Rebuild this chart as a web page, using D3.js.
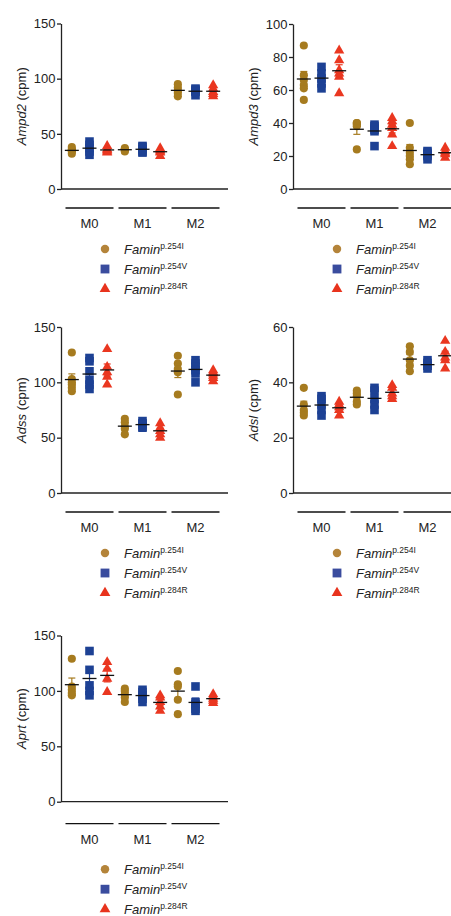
<!DOCTYPE html>
<html lang="en">
<head>
<meta charset="UTF-8">
<title>Famin purine genes</title>
<style>
  body { margin: 0; background: #fff; }
  svg { display: block; font-family: "Liberation Sans", Arial, sans-serif; }
  .tick text { font-size: 13px; fill: #222; }
  .tick line, .domain { stroke: #222; stroke-width: 1.3; }
</style>
</head>
<body>
<svg width="451" height="916"></svg>
<script src="https://d3js.org/d3.v7.min.js"></script>
<script>
const groups = ["M0", "M1", "M2"];
const genotypes = ["p.254I", "p.254V", "p.284R"];
const colors = ["#A67B1F", "#1D4194", "#EA3720"];
const legendColors = ["#B4843A", "#3A4C9E", "#E8331D"];

// one list per column: M0 (254I, 254V, 284R), M1 (...), M2 (...)
const ampd2 = [
  [38, 36, 35, 34, 32], [43, 40, 37, 34, 31], [39, 36, 35, 34, 33],
  [37, 36, 36, 35, 34], [39, 38, 36, 34, 33], [37, 35, 34, 33, 30],
  [95, 92, 89, 87, 84], [91, 90, 89, 88, 85], [94, 91, 88, 86, 84]
];
const ampd3 = [
  [87, 69, 66, 63, 61, 54], [74, 70, 67, 64, 61], [84, 78, 72, 70, 68, 58],
  [40, 40, 39, 38, 24], [39, 38, 37, 36, 35, 26], [43, 41, 39, 37, 33, 26],
  [40, 25, 22, 20, 18, 15], [23, 22, 21, 20, 18], [25, 23, 22, 21, 19]
];
const adss = [
  [127, 103, 100, 98, 95, 92], [122, 119, 110, 102, 98, 94], [130, 114, 109, 105, 98],
  [67, 64, 60, 58, 53], [65, 63, 62, 60, 59], [63, 59, 56, 53, 50],
  [124, 117, 112, 109, 89], [120, 117, 114, 111, 108, 100], [111, 109, 108, 106, 104, 101]
];
const adsl = [
  [38, 32, 30, 29, 28], [35, 34, 32, 30, 28], [33, 32, 31, 30, 28],
  [37, 36, 35, 33, 32], [38, 37, 34, 32, 30], [39, 38, 36, 35, 34],
  [53, 51, 48, 46, 44], [48, 47, 46, 46, 45], [55, 51, 49, 48, 45]
];
const aprt = [
  [129, 104, 101, 98, 96], [136, 119, 105, 100, 96], [126, 120, 111, 99],
  [102, 100, 97, 94, 90], [101, 99, 96, 93, 90], [96, 94, 90, 86, 82],
  [118, 106, 104, 92, 79], [104, 90, 88, 84, 82], [97, 95, 93, 91, 89]
];

const ticks150 = [0, 50, 100, 150];
const ticks100 = [0, 20, 40, 60, 80, 100];
const ticks60 = [0, 20, 40, 60];

// layout of each small plot
const panels = [
  { gene: "Ampd2", values: ampd2, max: 150, ticks: ticks150, x: 61, top: 23.5, bottom: 189, lineDy: 19, labelDy: 39, legendDy: 60 },
  { gene: "Ampd3", values: ampd3, max: 100, ticks: ticks100, x: 293, top: 24, bottom: 189, lineDy: 19, labelDy: 39, legendDy: 60 },
  { gene: "Adss", values: adss, max: 150, ticks: ticks150, x: 61, top: 327, bottom: 493, lineDy: 19, labelDy: 39, legendDy: 60 },
  { gene: "Adsl", values: adsl, max: 60, ticks: ticks60, x: 293, top: 327, bottom: 493, lineDy: 19, labelDy: 39, legendDy: 60 },
  { gene: "Aprt", values: aprt, max: 150, ticks: ticks150, x: 61, top: 635.5, bottom: 801.7, lineDy: 22, labelDy: 42, legendDy: 67.5 }
];

const svg = d3.select("svg");
svg.append("rect").attr("width", 451).attr("height", 916).attr("fill", "#fff");

const shapes = [d3.symbolCircle, d3.symbolSquare, d3.symbolTriangle];
const shapeSize = [52, 74, 46];

function drawPanel(p) {
  const g = svg.append("g");
  const y = d3.scaleLinear().domain([0, p.max]).range([p.bottom, p.top]);
  const x = d3.scaleBand().domain(d3.range(9)).range([p.x + 2, p.x + 161]);

  // y axis
  g.append("g")
    .attr("transform", `translate(${p.x},0)`)
    .call(d3.axisLeft(y).tickValues(p.ticks).tickSize(4).tickSizeOuter(0).tickPadding(1.5));

  // x axis line
  g.append("line")
    .attr("x1", p.x).attr("x2", p.x + 167)
    .attr("y1", y(0)).attr("y2", y(0))
    .attr("stroke", "#222").attr("stroke-width", 1.3);

  // y label
  const lab = g.append("text")
    .attr("transform", `translate(${p.x - 35},${(p.top + p.bottom) / 2}) rotate(-90)`)
    .attr("text-anchor", "middle").attr("font-size", 13).attr("fill", "#222");
  lab.append("tspan").attr("font-style", "italic").text(p.gene);
  lab.append("tspan").text(" (cpm)");

  // group bars and labels
  groups.forEach((name, gi) => {
    const x0 = x(gi * 3) + 2.5;
    const x1 = x(gi * 3 + 2) + x.bandwidth() - 2.5;
    g.append("line")
      .attr("x1", x0).attr("x2", x1)
      .attr("y1", p.bottom + p.lineDy).attr("y2", p.bottom + p.lineDy)
      .attr("stroke", "#111").attr("stroke-width", 1.3);
    g.append("text")
      .attr("x", (x0 + x1) / 2).attr("y", p.bottom + p.labelDy)
      .attr("text-anchor", "middle").attr("font-size", 13).attr("fill", "#222")
      .text(name);
  });

  // points, SEM and mean per column
  p.values.forEach((vals, i) => {
    const s = i % 3;
    const cx = x(i) + x.bandwidth() / 2;
    const sym = d3.symbol().type(shapes[s]).size(shapeSize[s]);
    g.selectAll(null)
      .data(vals)
      .enter()
      .append("path")
      .attr("d", sym)
      .attr("transform", d => `translate(${cx},${y(d)})`)
      .attr("fill", colors[s]);

    const m = d3.mean(vals);
    const sem = d3.deviation(vals) / Math.sqrt(vals.length);
    const err = g.append("g").attr("stroke", colors[s]).attr("stroke-width", 1.2);
    err.append("line").attr("x1", cx).attr("x2", cx).attr("y1", y(m - sem)).attr("y2", y(m + sem));
    err.append("line").attr("x1", cx - 3.5).attr("x2", cx + 3.5).attr("y1", y(m + sem)).attr("y2", y(m + sem));
    err.append("line").attr("x1", cx - 3.5).attr("x2", cx + 3.5).attr("y1", y(m - sem)).attr("y2", y(m - sem));

    g.append("line")
      .attr("x1", cx - 7).attr("x2", cx + 7)
      .attr("y1", y(m)).attr("y2", y(m))
      .attr("stroke", "#111").attr("stroke-width", 1.3);
  });

  // legend
  genotypes.forEach((gt, s) => {
    const ly = p.bottom + p.legendDy + s * 20;
    g.append("path")
      .attr("d", d3.symbol().type(shapes[s]).size(shapeSize[s] + 4))
      .attr("transform", `translate(${p.x + 44},${ly})`)
      .attr("fill", legendColors[s]);
    const t = g.append("text")
      .attr("x", p.x + 63).attr("y", ly + 5)
      .attr("font-size", 13).attr("fill", "#222");
    t.append("tspan").attr("font-style", "italic").text("Famin");
    t.append("tspan").attr("font-size", 8.5).attr("dy", -5).text(gt);
  });
}

panels.forEach(drawPanel);
</script>
</body>
</html>
